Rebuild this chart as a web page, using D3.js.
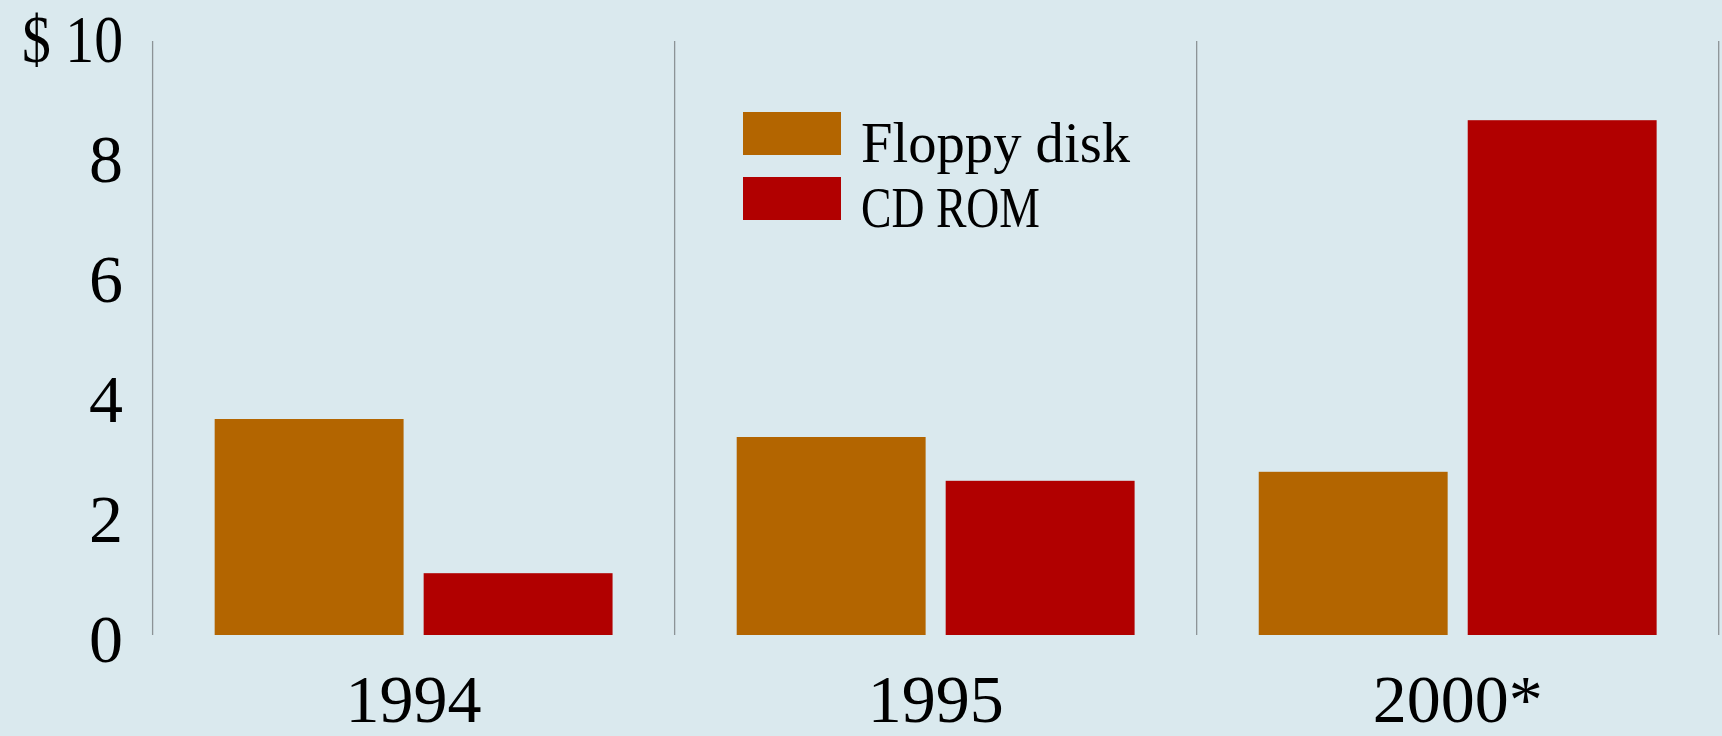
<!DOCTYPE html>
<html>
<head>
<meta charset="utf-8">
<script src="https://cdn.jsdelivr.net/npm/d3@7"></script>
<style>
  html, body { margin: 0; padding: 0; background: #dae9ee; }
  svg { display: block; font-family: "Times New Roman", "Liberation Serif", "DejaVu Serif", serif; }
</style>
</head>
<body>
<div id="chart"></div>
<script>
// chart data
var years = ['1994', '1995', '2000*'];
var seriesNames = ['Floppy disk', 'CD ROM'];
var floppyValues = [3.6, 3.3, 2.72];
var cdromValues = [1.03, 2.57, 8.58];
var yTicks = [0, 2, 4, 6, 8, 10];
var seriesColors = ['#b36500', '#b10000'];

var width = 1722,
    height = 736,
    left = 152.6,
    right = 1718.7,
    zeroY = 635,
    topY = 35;

var rows = years.map(function(y, i) {
    return { year: y, values: [floppyValues[i], cdromValues[i]] };
});

var svg = d3.select('#chart').append('svg')
    .attr('width', width)
    .attr('height', height);

svg.append('rect')
    .attr('width', width)
    .attr('height', height)
    .attr('fill', '#dae9ee');

var x0 = d3.scaleBand()
    .domain(years)
    .range([left, right])
    .padding(0);

var x1 = d3.scaleBand()
    .domain(seriesNames)
    .range([0, x0.bandwidth()])
    .paddingInner(0.096)
    .paddingOuter(0.297);

var y = d3.scaleLinear()
    .domain([0, 10])
    .range([zeroY, topY]);

var color = d3.scaleOrdinal().domain(seriesNames).range(seriesColors);

//  vertical separators between the year groups
var seps = years.map(function(d) { return x0(d); }).concat([right]);
svg.selectAll('line.sep')
    .data(seps)
    .enter().append('line')
    .attr('class', 'sep')
    .attr('x1', function(d) { return d; })
    .attr('x2', function(d) { return d; })
    .attr('y1', y(10) + 6)
    .attr('y2', y(0))
    .attr('stroke', '#8c9396')
    .attr('stroke-width', 1.3);

//  bars
var group = svg.selectAll('g.year')
    .data(rows)
    .enter().append('g')
    .attr('class', 'year')
    .attr('transform', function(d) { return 'translate(' + x0(d.year) + ',0)'; });

group.selectAll('rect')
    .data(function(d) {
        return d.values.map(function(v, i) { return { key: seriesNames[i], value: v }; });
    })
    .enter().append('rect')
    .attr('x', function(d) { return x1(d.key); })
    .attr('width', x1.bandwidth())
    .attr('y', function(d) { return y(d.value); })
    .attr('height', function(d) { return y(0) - y(d.value); })
    .attr('fill', function(d) { return color(d.key); });

//  y axis labels
var yAxis = d3.axisLeft(y)
    .tickValues(yTicks)
    .tickSize(0)
    .tickPadding(0)
    .tickFormat(function(d) { return d === 10 ? '$ 10' : d; });

var yg = svg.append('g')
    .attr('transform', 'translate(123,0)')
    .call(yAxis);
yg.select('.domain').remove();
yg.selectAll('text')
    .attr('fill', '#000')
    .attr('font-size', 68)
    .attr('font-family', '"Times New Roman", "Liberation Serif", serif')
    .attr('dy', '0.39em');
// the top label is set tighter in the original
yg.selectAll('text')
    .filter(function(d) { return d === 10; })
    .attr('textLength', 101)
    .attr('lengthAdjust', 'spacingAndGlyphs');

//  x axis labels
var xAxis = d3.axisBottom(x0)
    .tickSize(0)
    .tickPadding(0);

var xg = svg.append('g')
    .attr('transform', 'translate(0,' + zeroY + ')')
    .call(xAxis);
xg.select('.domain').remove();
xg.selectAll('text')
    .attr('fill', '#000')
    .attr('font-size', 68)
    .attr('font-family', '"Times New Roman", "Liberation Serif", serif')
    .attr('dy', null)
    .attr('y', 87);

//  legend
var legend = svg.append('g')
    .attr('transform', 'translate(743,112)');

var item = legend.selectAll('g.item')
    .data(seriesNames)
    .enter().append('g')
    .attr('class', 'item')
    .attr('transform', function(d, i) { return 'translate(0,' + (i * 65) + ')'; });

item.append('rect')
    .attr('width', 98)
    .attr('height', 43)
    .attr('fill', function(d) { return color(d); });

item.append('text')
    .attr('x', 118)
    .attr('y', 50)
    .attr('font-size', 57)
    .attr('fill', '#000')
    .attr('textLength', function(d, i) { return i === 0 ? 269 : 179; })
    .attr('lengthAdjust', 'spacingAndGlyphs')
    .text(function(d) { return d; });
</script>
</body>
</html>
